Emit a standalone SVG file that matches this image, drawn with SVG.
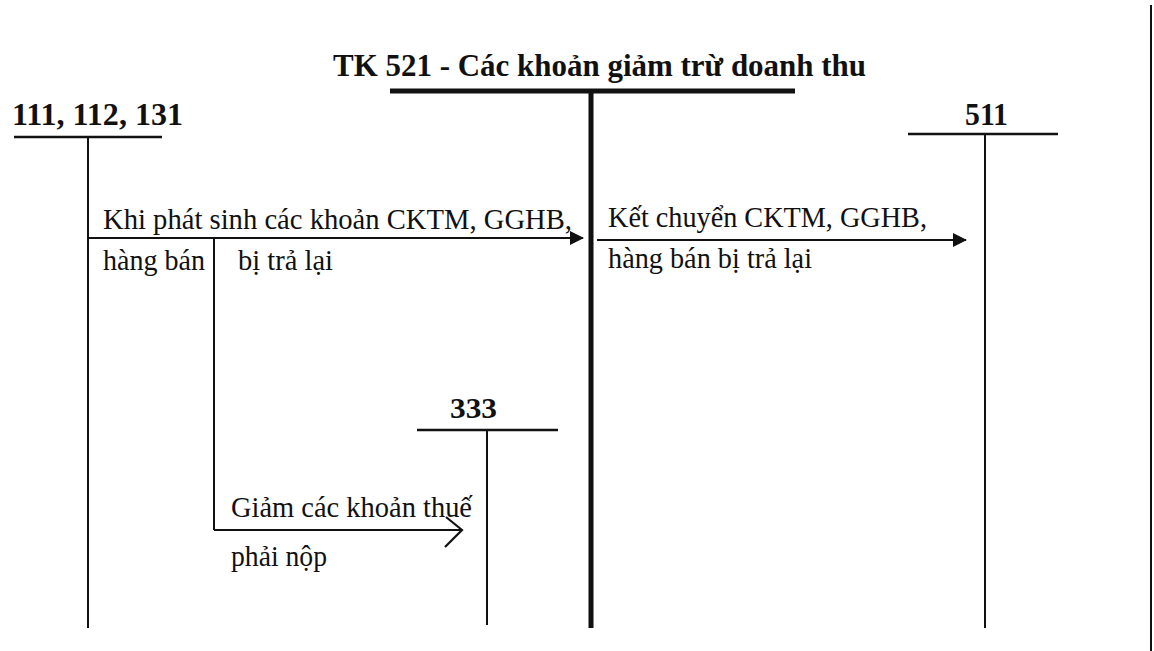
<svg xmlns="http://www.w3.org/2000/svg" width="1154" height="651" viewBox="0 0 1154 651">
<style>
.b{font-family:"Liberation Serif","Times New Roman",serif;font-weight:bold;fill:#111}
.r{font-family:"Liberation Serif","Times New Roman",serif;fill:#111;font-size:30px}
.ln{stroke:#111;fill:none}
</style>
<defs>
<marker id="fa" markerWidth="14" markerHeight="14" refX="13" refY="7" orient="auto" markerUnits="userSpaceOnUse"><path d="M0,0 L14,7 L0,14 Z" fill="#111"/></marker>
<marker id="oa" markerWidth="22" markerHeight="34" refX="20" refY="14" orient="auto" markerUnits="userSpaceOnUse"><path d="M4,1 L20,14 L3,31" fill="none" stroke="#111" stroke-width="2.2"/></marker>
</defs>
<rect width="1154" height="651" fill="#fff"/>
<line x1="1151" y1="5" x2="1151" y2="651" stroke="#111" stroke-width="2"/>
<g id="tk521">
<text class="b" x="333" y="76" font-size="32" textLength="533" lengthAdjust="spacingAndGlyphs">TK 521 - Các khoản giảm trừ doanh thu</text>
<line class="ln" x1="390" y1="91" x2="795" y2="91" stroke-width="5"/>
<line class="ln" x1="591" y1="91" x2="591" y2="628" stroke-width="5"/>
</g>
<g id="tk111">
<text class="b" x="12" y="125" font-size="32" textLength="171" lengthAdjust="spacingAndGlyphs">111, 112, 131</text>
<line class="ln" x1="14" y1="137" x2="162" y2="137" stroke-width="2.5"/>
<line class="ln" x1="88" y1="137" x2="88" y2="628" stroke-width="2"/>
</g>
<g id="tk511">
<text class="b" x="965" y="125" font-size="31" textLength="43" lengthAdjust="spacingAndGlyphs">511</text>
<line class="ln" x1="908" y1="134" x2="1058" y2="134" stroke-width="2.5"/>
<line class="ln" x1="985" y1="134" x2="985" y2="628" stroke-width="2"/>
</g>
<g id="tk333">
<text class="b" x="450" y="418" font-size="30" textLength="47" lengthAdjust="spacingAndGlyphs">333</text>
<line class="ln" x1="417" y1="430" x2="558" y2="430" stroke-width="2.5"/>
<line class="ln" x1="487" y1="430" x2="487" y2="625" stroke-width="2"/>
</g>
<g id="connectors">
<line class="ln" x1="88" y1="238" x2="583" y2="238" stroke-width="2" marker-end="url(#fa)"/>
<line class="ln" x1="214" y1="238" x2="214" y2="530" stroke-width="2"/>
<line class="ln" x1="597" y1="240" x2="966" y2="240" stroke-width="2" marker-end="url(#fa)"/>
<line class="ln" x1="214" y1="530" x2="462" y2="530" stroke-width="2" marker-end="url(#oa)"/>
</g>
<g id="labels">
<text class="r" x="103" y="229" textLength="469" lengthAdjust="spacingAndGlyphs">Khi phát sinh các khoản CKTM, GGHB,</text>
<text class="r" x="103" y="270" textLength="102" lengthAdjust="spacingAndGlyphs">hàng bán</text>
<text class="r" x="238" y="270" textLength="95" lengthAdjust="spacingAndGlyphs">bị trả lại</text>
<text class="r" x="608" y="227" textLength="319" lengthAdjust="spacingAndGlyphs">Kết chuyển CKTM, GGHB,</text>
<text class="r" x="608" y="268" textLength="204" lengthAdjust="spacingAndGlyphs">hàng bán bị trả lại</text>
<text class="r" x="231" y="517" textLength="241" lengthAdjust="spacingAndGlyphs">Giảm các khoản thuế</text>
<text class="r" x="231" y="566" textLength="96" lengthAdjust="spacingAndGlyphs">phải nộp</text>
</g>
</svg>
